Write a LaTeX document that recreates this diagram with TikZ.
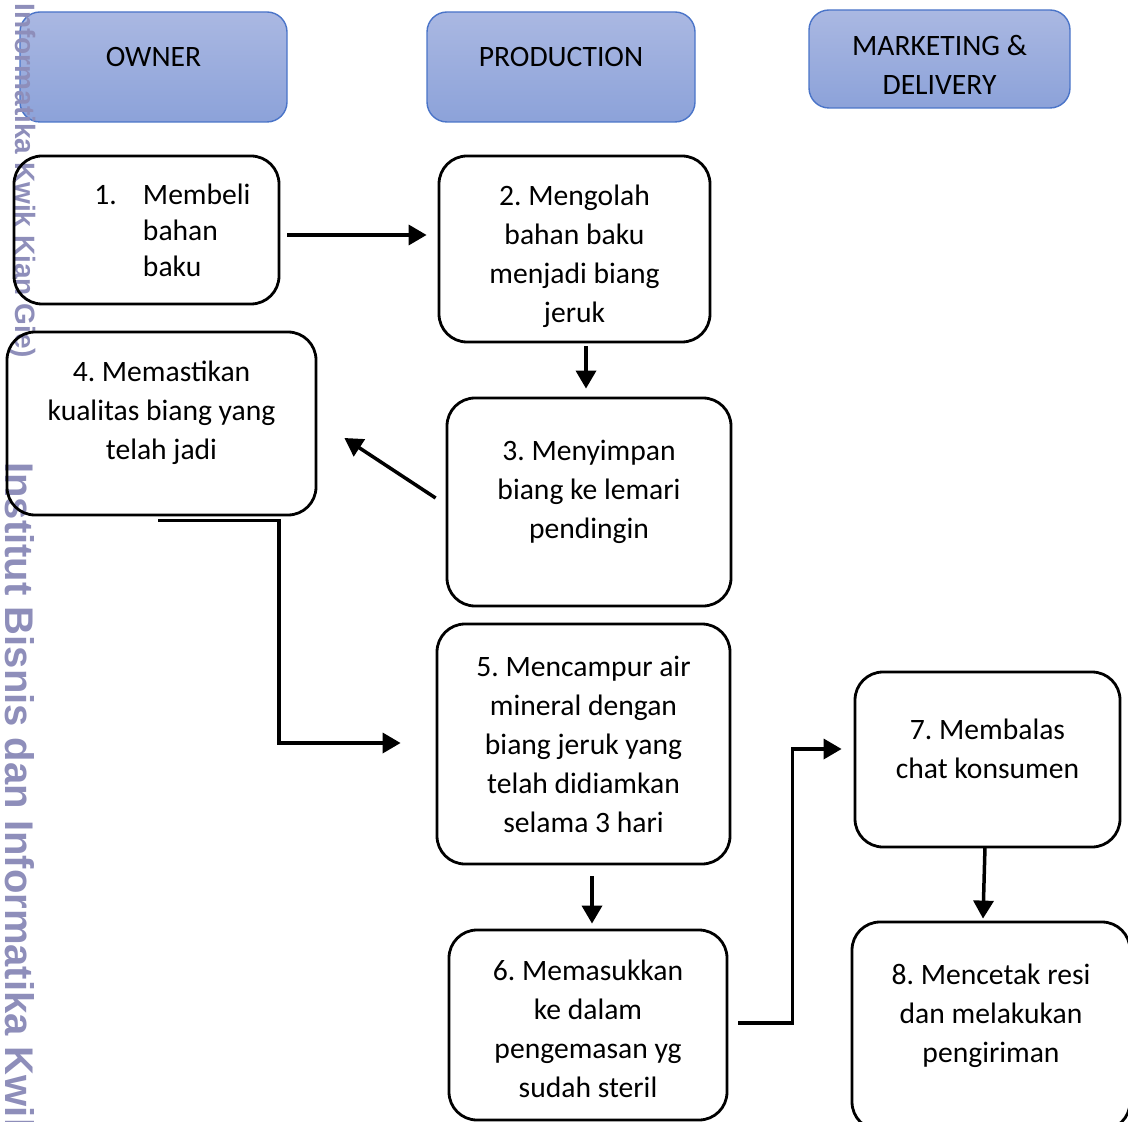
\documentclass[tikz,border=0pt]{standalone}
\usepackage{fontspec}
\setmainfont{Carlito}
\newfontfamily\wmfont{Liberation Sans}
\usetikzlibrary{arrows.meta}
\frenchspacing

\definecolor{laneTop}{HTML}{AAB8E2}
\definecolor{laneBot}{HTML}{8CA2D9}
\definecolor{laneLine}{HTML}{4A74C8}
\definecolor{wmark}{HTML}{8E8EBA}

\tikzset{
  lanebox/.style={rounded corners=10pt, draw=laneLine, line width=0.7pt,
    top color=laneTop, bottom color=laneBot, inner sep=0pt},
  stepbox/.style={rounded corners=14pt, draw, line width=1.4pt, inner sep=0pt},
  steptext/.style={align=center, inner sep=0pt, font=\fontsize{14.8}{19.5}\selectfont},
  arr/.style={line width=1.75pt, -{Triangle[length=9pt,width=10pt]}},
}

\begin{document}
\begin{tikzpicture}[x=0.5pt,y=-0.5pt]
\useasboundingbox (0,0) rectangle (1128,1122);

% lanes
\node[lanebox, minimum width=133.5pt, minimum height=55pt,
  label={[steptext, yshift=5pt]center:OWNER}] (owner) at (153.5,67) {};
\node[lanebox, minimum width=134pt, minimum height=55pt,
  label={[steptext, yshift=5pt]center:PRODUCTION}] (prod) at (561,67) {};
\node[lanebox, minimum width=130.5pt, minimum height=49pt,
  label={[steptext, yshift=-2.75pt]center:{MARKETING \&\\DELIVERY}}] (mkt) at (939.5,59) {};

% watermark
\node[wmark, rotate=-90, anchor=base west, inner sep=0pt,
  font=\wmfont\bfseries\fontsize{14}{16}\selectfont] (wmtop) at (15,3) {Informatika Kwik Kian Gie)};
\node[wmark, rotate=-90, anchor=base west, inner sep=0pt,
  font=\wmfont\bfseries\fontsize{20}{24}\selectfont] (wmbot) at (5,462) {Institut Bisnis dan Informatika Kwik Kian Gie};

% steps
\node[stepbox, minimum width=132.5pt, minimum height=74pt,
  label={[steptext, yshift=-1.5pt, font=\fontsize{14.8}{18}\selectfont]center:{\hspace*{26pt}\begin{tabular}{@{}l@{\hspace{13pt}}l@{}}1. & Membeli\\ & bahan\\ & baku\end{tabular}}}] (b1) at (146.5,230) {};
\node[stepbox, minimum width=135.5pt, minimum height=93pt,
  label={[steptext, yshift=-3.5pt]center:{2. Mengolah\\bahan baku\\menjadi biang\\jeruk}}] (b2) at (574.5,249) {};
\node[stepbox, minimum width=142pt, minimum height=104pt,
  label={[steptext, yshift=5pt]center:{3. Menyimpan\\biang ke lemari\\pendingin}}] (b3) at (589,502) {};
\node[stepbox, minimum width=154.5pt, minimum height=91.5pt,
  label={[steptext, yshift=5.5pt]center:{4. Memastikan\\kualitas biang yang\\telah jadi}}] (b4) at (161.5,423.5) {};
\node[stepbox, minimum width=146.5pt, minimum height=120pt,
  label={[steptext]center:{5. Mencampur air\\mineral dengan\\biang jeruk yang\\telah didiamkan\\selama 3 hari}}] (b5) at (583.5,744) {};
\node[stepbox, minimum width=139pt, minimum height=95pt,
  label={[steptext, yshift=-2pt]center:{6. Memasukkan\\ke dalam\\pengemasan yg\\sudah steril}}] (b6) at (588,1025) {};
\node[stepbox, minimum width=132.5pt, minimum height=87.5pt,
  label={[steptext, yshift=5.25pt]center:{7. Membalas\\chat konsumen}}] (b7) at (987.5,759.5) {};
\node[stepbox, minimum width=139pt, minimum height=104pt,
  label={[steptext, yshift=5pt]center:{8. Mencetak resi\\dan melakukan\\pengiriman}}] (b8) at (991,1026) {};

% flow
\draw[arr, shorten <=3.5pt, shorten >=5.5pt] ([yshift=-2.5pt]b1.east) -- ([yshift=-2.5pt]b1.east -| b2.west);
\draw[arr, shorten <=1.5pt, shorten >=4pt] ([xshift=5.75pt]b2.south) -- ([xshift=5.75pt]b2.south |- b3.north);
\draw[arr] ([shift={(-5pt,2pt)}]b3.west) -- ([shift={(13.5pt,-7.25pt)}]b4.east);
\draw[arr] ([shift={(-1.75pt,-2pt)}]b4.south) -- ++(121,0) |- ([shift={(-17.5pt,0.5pt)}]b5.west);
\draw[arr, shorten <=5.5pt, shorten >=2.5pt] ([xshift=4.25pt]b5.south) -- ([xshift=4.25pt]b5.south |- b6.north);
\draw[arr] ([shift={(5pt,1pt)}]b6.east) -- ++(54,0) |- ([shift={(-6pt,5.25pt)}]b7.west);
\draw[arr] ([shift={(-1.25pt,1pt)}]b7.south) -- ([shift={(-4pt,1pt)}]b8.north);

\end{tikzpicture}
\end{document}
